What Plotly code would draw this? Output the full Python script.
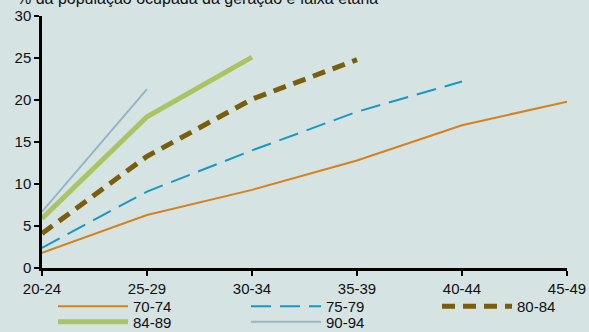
import plotly.graph_objects as go

age_groups = ["20-24", "25-29", "30-34", "35-39", "40-44", "45-49"]

gen_70_74 = [1.8, 6.3, 9.3, 12.8, 17.0, 19.8]
gen_75_79 = [2.4, 9.1, 14.0, 18.6, 22.2]
gen_80_84 = [4.1, 13.3, 20.1, 24.8]
gen_84_89 = [5.9, 18.0, 25.1]
gen_90_94 = [6.7, 21.3]

y_ticks = [0, 5, 10, 15, 20, 25, 30]
title_text = "% da população ocupada da geração e faixa etária"

W, H = 589, 332

series = [
    ("70-74", gen_70_74, dict(color="#d5821c", width=2)),
    ("75-79", gen_75_79, dict(color="#1899c4", width=2, dash="20px,9px")),
    ("80-84", gen_80_84, dict(color="#7b5e0b", width=5, dash="13px,8px")),
    ("84-89", gen_84_89, dict(color="#a9c461", width=5)),
    ("90-94", gen_90_94, dict(color="#97b4c2", width=2)),
]

# legend grid: (column, row) for each series
legend_cells = [(0, 0), (1, 0), (2, 0), (0, 1), (1, 1)]
col_x = [53, 246, 437]
row_y = [306.5, 322.0]

fig = go.Figure()
layout_legends = {}
for i, ((name, vals, line), (c, r)) in enumerate(zip(series, legend_cells)):
    key = "legend" if i == 0 else f"legend{i + 1}"
    fig.add_trace(go.Scatter(
        x=list(range(len(vals))), y=vals, name=name, mode="lines",
        line=line, hoverinfo="skip", legend=key,
    ))
    layout_legends[key] = dict(
        xref="container", yref="container",
        x=col_x[c] / W, y=(H - row_y[r]) / H,
        xanchor="left", yanchor="middle",
        bgcolor="rgba(0,0,0,0)", borderwidth=0,
        font=dict(size=15), itemwidth=70,
    )

bg = "#d5e3e3"
fig.update_layout(
    width=W, height=H,
    margin=dict(l=42, r=22, t=16, b=64, autoexpand=False),
    paper_bgcolor=bg, plot_bgcolor=bg,
    font=dict(family="Liberation Sans, Arial, sans-serif", size=15, color="#111111"),
    showlegend=True,
    xaxis=dict(
        range=[0, 5], tickmode="array",
        tickvals=list(range(len(age_groups))), ticktext=age_groups,
        showgrid=False, zeroline=False, showline=True,
        linecolor="black", linewidth=2.5,
        ticks="outside", ticklen=5, tickwidth=2, tickcolor="black",
        fixedrange=True,
    ),
    yaxis=dict(
        range=[0, 30], tickmode="array", tickvals=y_ticks,
        showgrid=False, zeroline=False, showline=True,
        linecolor="black", linewidth=2.5,
        ticks="outside", ticklen=5, tickwidth=2, tickcolor="black",
        fixedrange=True,
    ),
    annotations=[dict(
        text=title_text, xref="paper", yref="paper",
        x=-0.052, y=1.028, xanchor="left", yanchor="bottom",
        showarrow=False, font=dict(size=16),
    )],
    **layout_legends,
)

fig.write_html("out.html")
